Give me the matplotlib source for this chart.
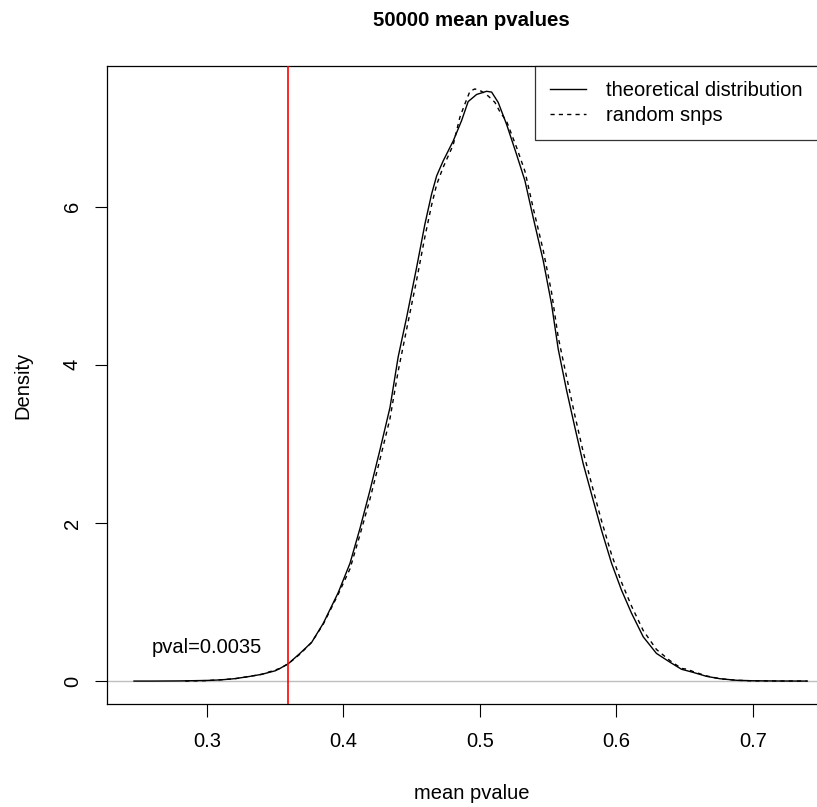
import matplotlib
matplotlib.use("Agg")
import matplotlib.pyplot as plt

plt.rcParams['font.family'] = ['Liberation Sans', 'DejaVu Sans']

# theoretical distribution (density curve)
theo_x = [0.2465, 0.26, 0.28, 0.30, 0.31, 0.32, 0.33, 0.34, 0.35, 0.3535, 0.3596, 0.3681,
          0.3767, 0.3852, 0.3962, 0.4048, 0.4121, 0.4194, 0.4267, 0.4341, 0.4401, 0.4463,
          0.4536, 0.4597, 0.4646, 0.4683, 0.4731, 0.4804, 0.4866, 0.4914, 0.4976, 0.5049,
          0.5086, 0.5134, 0.5196, 0.5269, 0.5330, 0.5391, 0.5464, 0.5525, 0.5574, 0.5635,
          0.5696, 0.5757, 0.5830, 0.5891, 0.5965, 0.6038, 0.6111, 0.6197, 0.6294, 0.6392,
          0.6477, 0.6563, 0.6661, 0.6758, 0.6880, 0.70, 0.72, 0.74]
theo_y = [0.0, 0.0, 0.002, 0.008, 0.015, 0.03, 0.055, 0.085, 0.13, 0.16, 0.22, 0.35,
          0.49, 0.73, 1.12, 1.49, 1.93, 2.41, 2.92, 3.46, 4.1, 4.6,
          5.23, 5.78, 6.16, 6.39, 6.58, 6.83, 7.09, 7.33, 7.42, 7.46,
          7.45, 7.32, 7.04, 6.66, 6.33, 5.86, 5.32, 4.77, 4.2, 3.68,
          3.21, 2.75, 2.29, 1.91, 1.49, 1.15, 0.86, 0.56, 0.35, 0.24,
          0.15, 0.11, 0.06, 0.03, 0.01, 0.004, 0.001, 0.0]

# random snps density
rand_x = [0.284, 0.30, 0.32, 0.34, 0.3535, 0.3596, 0.3681, 0.3767, 0.3852, 0.3962, 0.4048,
          0.4121, 0.4194, 0.4267, 0.4341, 0.4401, 0.4463, 0.4536, 0.4597, 0.4646, 0.4683,
          0.4731, 0.4804, 0.4853, 0.4890, 0.4927, 0.4963, 0.5012, 0.5061, 0.5110, 0.5147,
          0.5196, 0.5269, 0.5330, 0.5391, 0.5464, 0.5525, 0.5574, 0.5635, 0.5696, 0.5757,
          0.5830, 0.5891, 0.5965, 0.6038, 0.6111, 0.6197, 0.6294, 0.6392, 0.6477, 0.6520,
          0.6563, 0.6661, 0.6758, 0.6880, 0.70, 0.72, 0.7396]
rand_y = [0.0, 0.006, 0.028, 0.085, 0.16, 0.22, 0.34, 0.49, 0.72, 1.10, 1.42,
          1.85, 2.30, 2.80, 3.32, 3.92, 4.45, 5.07, 5.62, 6.02, 6.28,
          6.50, 6.78, 7.13, 7.30, 7.46, 7.49, 7.46, 7.40, 7.32, 7.20,
          7.08, 6.75, 6.45, 5.98, 5.45, 4.92, 4.35, 3.85, 3.36, 2.90,
          2.42, 2.03, 1.60, 1.25, 0.95, 0.64, 0.40, 0.26, 0.16, 0.15,
          0.12, 0.065, 0.03, 0.01, 0.003, 0.001, 0.0]

observed_mean = 0.3593
pval_text = "pval=0.0035"
x_ticks = [0.3, 0.4, 0.5, 0.6, 0.7]
y_ticks = [0, 2, 4, 6]

fs = 14.5

fig = plt.figure(figsize=(8.17, 8.07), dpi=100)
# plot region runs a little past the right edge, like the cropped original
ax = fig.add_axes([107 / 817, 1 - 704 / 807, (836 - 107) / 817, (704 - 66) / 807])

ax.axhline(0, color='#BEBEBE', lw=1.0, zorder=1)
ax.plot(theo_x, theo_y, color='black', lw=1.0, label='theoretical distribution', zorder=3)
ax.plot(rand_x, rand_y, color='black', lw=1.0, dashes=(3, 3), label='random snps', zorder=3)
ax.axvline(observed_mean, color='red', lw=1.2, zorder=4)
ax.text(0.3, 0.42, pval_text, ha='center', va='center', fontsize=fs)

ax.set_xlim(0.2267, 0.761)
ax.set_ylim(-0.29, 7.78)
ax.set_xticks(x_ticks)
ax.set_xticklabels([str(v) for v in x_ticks])
ax.set_yticks(y_ticks)
ax.set_yticklabels([str(v) for v in y_ticks], rotation=90, va='center')
ax.tick_params(direction='out', length=9, width=0.8, labelsize=fs)
ax.tick_params(axis='x', pad=11)
ax.tick_params(axis='y', pad=9)
for s in ax.spines.values():
    s.set_linewidth(0.9)

ax.set_title('50000 mean pvalues', fontsize=14.7, fontweight='bold', pad=29)
ax.set_xlabel('mean pvalue', fontsize=fs, labelpad=24)
ax.set_ylabel('Density', fontsize=fs, labelpad=22)

leg = ax.legend(loc='upper right', bbox_to_anchor=(1.0 - 18 / 729, 1.0), borderaxespad=0,
                fontsize=fs, frameon=True, fancybox=False, edgecolor='black',
                handlelength=1.8, handletextpad=1.0, labelspacing=0.3, borderpad=0.75)
leg.get_frame().set_linewidth(0.9)

fig.savefig('out.png', dpi=100)
